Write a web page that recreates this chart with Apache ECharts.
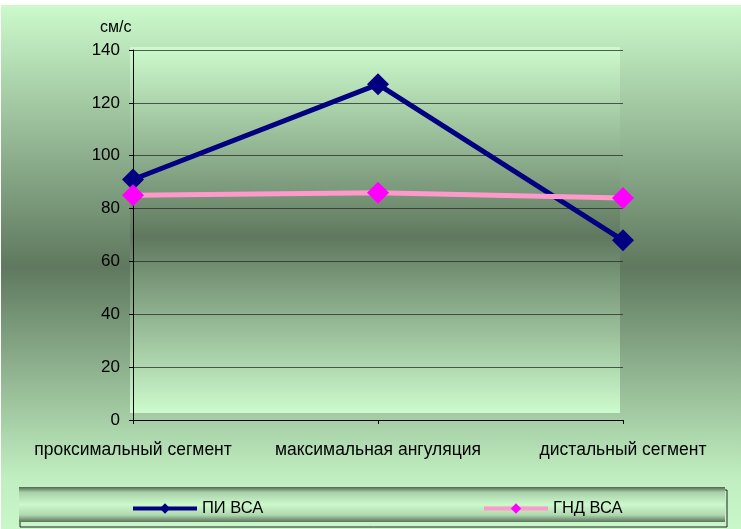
<!DOCTYPE html>
<html><head><meta charset="utf-8">
<script src="https://cdn.jsdelivr.net/npm/echarts@6/dist/echarts.min.js"></script>
<style>html,body{margin:0;padding:0;background:#fff}#c{width:741px;height:529px}</style>
</head><body><div id="c"></div>
<script>
const categories = ['проксимальный сегмент', 'максимальная ангуляция', 'дистальный сегмент'];
const piVca = [91, 127, 68];
const gndVca = [85, 86, 84];
const seriesNames = ['ПИ ВСА', 'ГНД ВСА'];
const yTicks = {min: 0, max: 140, interval: 20};
const unitLabel = 'см/с';

const chart = echarts.init(document.getElementById('c'), null, {renderer: 'canvas'});
const vgrad = (stops) => new echarts.graphic.LinearGradient(0, 0, 0, 1, stops);
const font = 'Liberation Sans, Arial, sans-serif';
const legendBase = {
  top: 500, itemWidth: 64, itemHeight: 13, padding: 0,
  lineStyle: {width: 4},
  textStyle: {fontFamily: font, fontSize: 16.5, color: '#000'}
};

chart.setOption({
  animation: false,
  backgroundColor: '#ffffff',
  graphic: [
    {type: 'rect', z: -10, shape: {x: 1, y: 5, width: 740, height: 524},
     style: {fill: vgrad([{offset: 0, color: '#ccfacc'}, {offset: 0.5, color: '#5f785f'}, {offset: 0.9, color: '#c0eec0'}, {offset: 1, color: '#c9f7c9'}])}},
    {type: 'rect', z: -9, shape: {x: 130, y: 47, width: 490, height: 366},
     style: {fill: vgrad([{offset: 0, color: '#cdfbcd'}, {offset: 0.52, color: '#5f785f'}, {offset: 1, color: '#cdfbcd'}])}},
    {type: 'rect', z: -8, shape: {x: 20, y: 490, width: 707, height: 37},
     style: {fill: 'none', stroke: '#222', lineWidth: 1}},
    {type: 'rect', z: -7, shape: {x: 19, y: 487, width: 706, height: 35},
     style: {fill: vgrad([{offset: 0, color: '#4f674f'}, {offset: 0.15, color: '#a8d0a8'}, {offset: 0.5, color: '#ccf9cc'}, {offset: 0.8, color: '#b0d8b0'}, {offset: 1, color: '#5a725a'}])}}
  ],
  grid: {left: 133, right: 118, top: 50, bottom: 109},
  legend: [
    Object.assign({left: 131, data: [seriesNames[0]]}, legendBase),
    Object.assign({left: 482, data: [seriesNames[1]]}, legendBase)
  ],
  xAxis: {
    type: 'category', data: categories, boundaryGap: false,
    axisLine: {lineStyle: {color: '#000', width: 1}},
    axisTick: {show: true, length: 4, lineStyle: {color: '#000'}},
    axisLabel: {color: '#000', fontFamily: font, fontSize: 17.5, margin: 21, interval: 0}
  },
  yAxis: {
    type: 'value', min: yTicks.min, max: yTicks.max, interval: yTicks.interval,
    name: unitLabel, nameLocation: 'end', nameGap: 14,
    nameTextStyle: {color: '#000', fontFamily: font, fontSize: 16, align: 'left', padding: [0, 0, 0, -33]},
    axisLine: {show: true, lineStyle: {color: '#000', width: 1}},
    axisTick: {show: true, length: 4, lineStyle: {color: '#000'}},
    splitLine: {lineStyle: {color: 'rgba(40,40,40,0.75)', width: 1}},
    axisLabel: {color: '#000', fontFamily: font, fontSize: 17, margin: 13}
  },
  series: [
    {name: seriesNames[0], type: 'line', data: piVca, symbol: 'diamond', symbolSize: 22,
     lineStyle: {color: '#000080', width: 5}, itemStyle: {color: '#000080'}, z: 3},
    {name: seriesNames[1], type: 'line', data: gndVca, symbol: 'diamond', symbolSize: 22,
     lineStyle: {color: '#ff99cc', width: 5}, itemStyle: {color: '#ff00ff'}, z: 4}
  ]
});
</script></body></html>
